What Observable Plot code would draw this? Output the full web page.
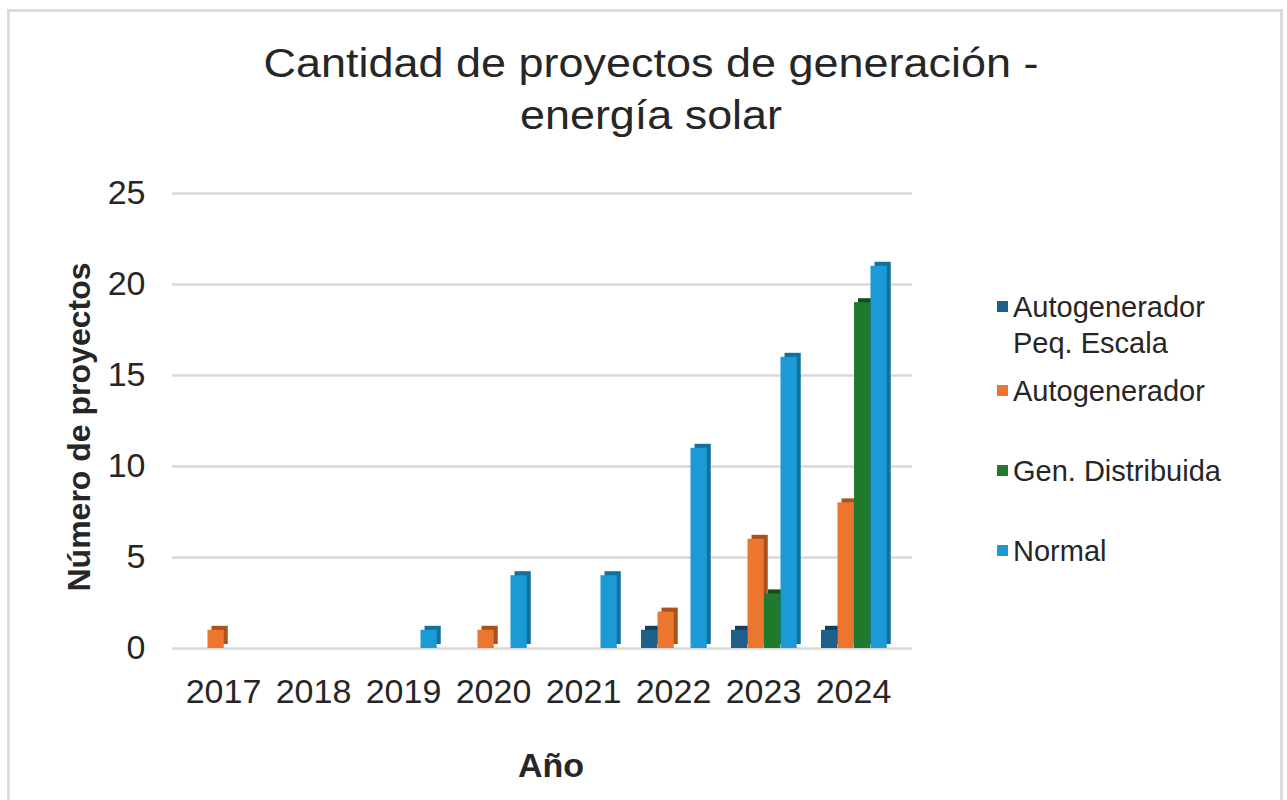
<!DOCTYPE html>
<html>
<head>
<meta charset="utf-8">
<script src="https://cdn.jsdelivr.net/npm/d3@7"></script>
<script src="https://cdn.jsdelivr.net/npm/@observablehq/plot@0.6"></script>
<style>
  html, body { margin: 0; padding: 0; background: #fff; }
  body { width: 1287px; height: 800px; position: relative; overflow: hidden; font-family: "Liberation Sans", Arial, sans-serif; }
  #frame { position: absolute; left: 7px; top: 9px; width: 1276px; height: 820px; border: 3px solid #dcdcdc; box-sizing: border-box; background: #fff; }
  #chart { position: absolute; left: 0; top: 0; }
  #overlay { position: absolute; left: 0; top: 0; pointer-events: none; }
</style>
</head>
<body>
<div id="frame"></div>
<div id="chart"></div>
<svg id="overlay" width="1287" height="800"></svg>
<script>
// ---- data ----
const years = ["2017", "2018", "2019", "2020", "2021", "2022", "2023", "2024"];
const seriesNames = ["Autogenerador Peq. Escala", "Autogenerador", "Gen. Distribuida", "Normal"];
const autogenPeqEscala = [0, 0, 0, 0, 0, 1, 1, 1];
const autogenerador    = [1, 0, 0, 1, 0, 2, 6, 8];
const genDistribuida   = [0, 0, 0, 0, 0, 0, 3, 19];
const normal           = [0, 0, 1, 4, 4, 11, 16, 21];
const yTicks = [0, 5, 10, 15, 20, 25];
const titleLines = ["Cantidad de proyectos de generación -", "energía solar"];
const yLabel = "Número de proyectos";
const xLabel = "Año";
const legendLines = [["Autogenerador", "Peq. Escala"], ["Autogenerador"], ["Gen. Distribuida"], ["Normal"]];

const frontColors = ["#1f5f8c", "#ec7530", "#1f7a2e", "#1b9ad6"];
const sideColors  = ["#123f5f", "#a9521e", "#124d1c", "#12709f"];

const seriesValues = [autogenPeqEscala, autogenerador, genDistribuida, normal];
const rows = [];
seriesNames.forEach((s, i) => years.forEach((y, j) => {
  if (seriesValues[i][j] > 0) rows.push({year: y, series: s, idx: i, value: seriesValues[i][j]});
}));

// ---- layout ----
const xRange = [177, 899];
const bw = (xRange[1] - xRange[0]) / years.length;
const barW = 16.5, offset0 = 13, depth = 4;

const barMarks = [];
seriesNames.forEach((s, i) => {
  const data = rows.filter(d => d.idx === i);
  const L = offset0 + i * barW;
  const R = bw - L - barW;
  barMarks.push(Plot.barY(data, {x: "year", y: "value", fill: sideColors[i], insetLeft: L, insetRight: R, dx: depth, dy: -depth}));
  barMarks.push(Plot.barY(data, {x: "year", y: "value", fill: frontColors[i], insetLeft: L, insetRight: R}));
});

const chart = Plot.plot({
  width: 1287,
  height: 800,
  marginTop: 193,
  marginBottom: 152,
  marginLeft: 172,
  marginRight: 375,
  style: {fontFamily: "'Liberation Sans', Arial, sans-serif", fontSize: "34px", color: "#262626", background: "transparent"},
  x: {domain: years, range: xRange, padding: 0, tickSize: 0, tickPadding: 30, label: null},
  y: {domain: [0, 25], ticks: yTicks, tickSize: 0, tickPadding: 27, label: null},
  marks: [
    Plot.ruleY(yTicks, {stroke: "#d9d9d9", strokeWidth: 2.5}),
    ...barMarks
  ]
});
document.getElementById("chart").appendChild(chart);

// ---- titles & legend ----
const ov = d3.select("#overlay");
const ff = "'Liberation Sans', Arial, sans-serif";
ov.append("text").attr("x", 651).attr("y", 77).attr("text-anchor", "middle")
  .attr("font-family", ff).attr("font-size", 40).attr("fill", "#262626")
  .attr("textLength", 775).attr("lengthAdjust", "spacingAndGlyphs").text(titleLines[0]);
ov.append("text").attr("x", 651).attr("y", 129).attr("text-anchor", "middle")
  .attr("font-family", ff).attr("font-size", 40).attr("fill", "#262626")
  .attr("textLength", 262).attr("lengthAdjust", "spacingAndGlyphs").text(titleLines[1]);

ov.append("text").attr("transform", "translate(90,427) rotate(-90)").attr("text-anchor", "middle")
  .attr("font-family", ff).attr("font-size", 32).attr("font-weight", "bold").attr("fill", "#262626").text(yLabel);
ov.append("text").attr("x", 551).attr("y", 777).attr("text-anchor", "middle")
  .attr("font-family", ff).attr("font-size", 34).attr("font-weight", "bold").attr("fill", "#262626").text(xLabel);

const legendBase = [317, 401, 481, 561];
legendLines.forEach((lines, i) => {
  ov.append("rect").attr("x", 997).attr("y", legendBase[i] - 16).attr("width", 11).attr("height", 11).attr("fill", frontColors[i]);
  lines.forEach((t, k) => {
    ov.append("text").attr("x", 1013).attr("y", legendBase[i] + k * 36)
      .attr("font-family", ff).attr("font-size", 29).attr("fill", "#262626").text(t);
  });
});
</script>
</body>
</html>
